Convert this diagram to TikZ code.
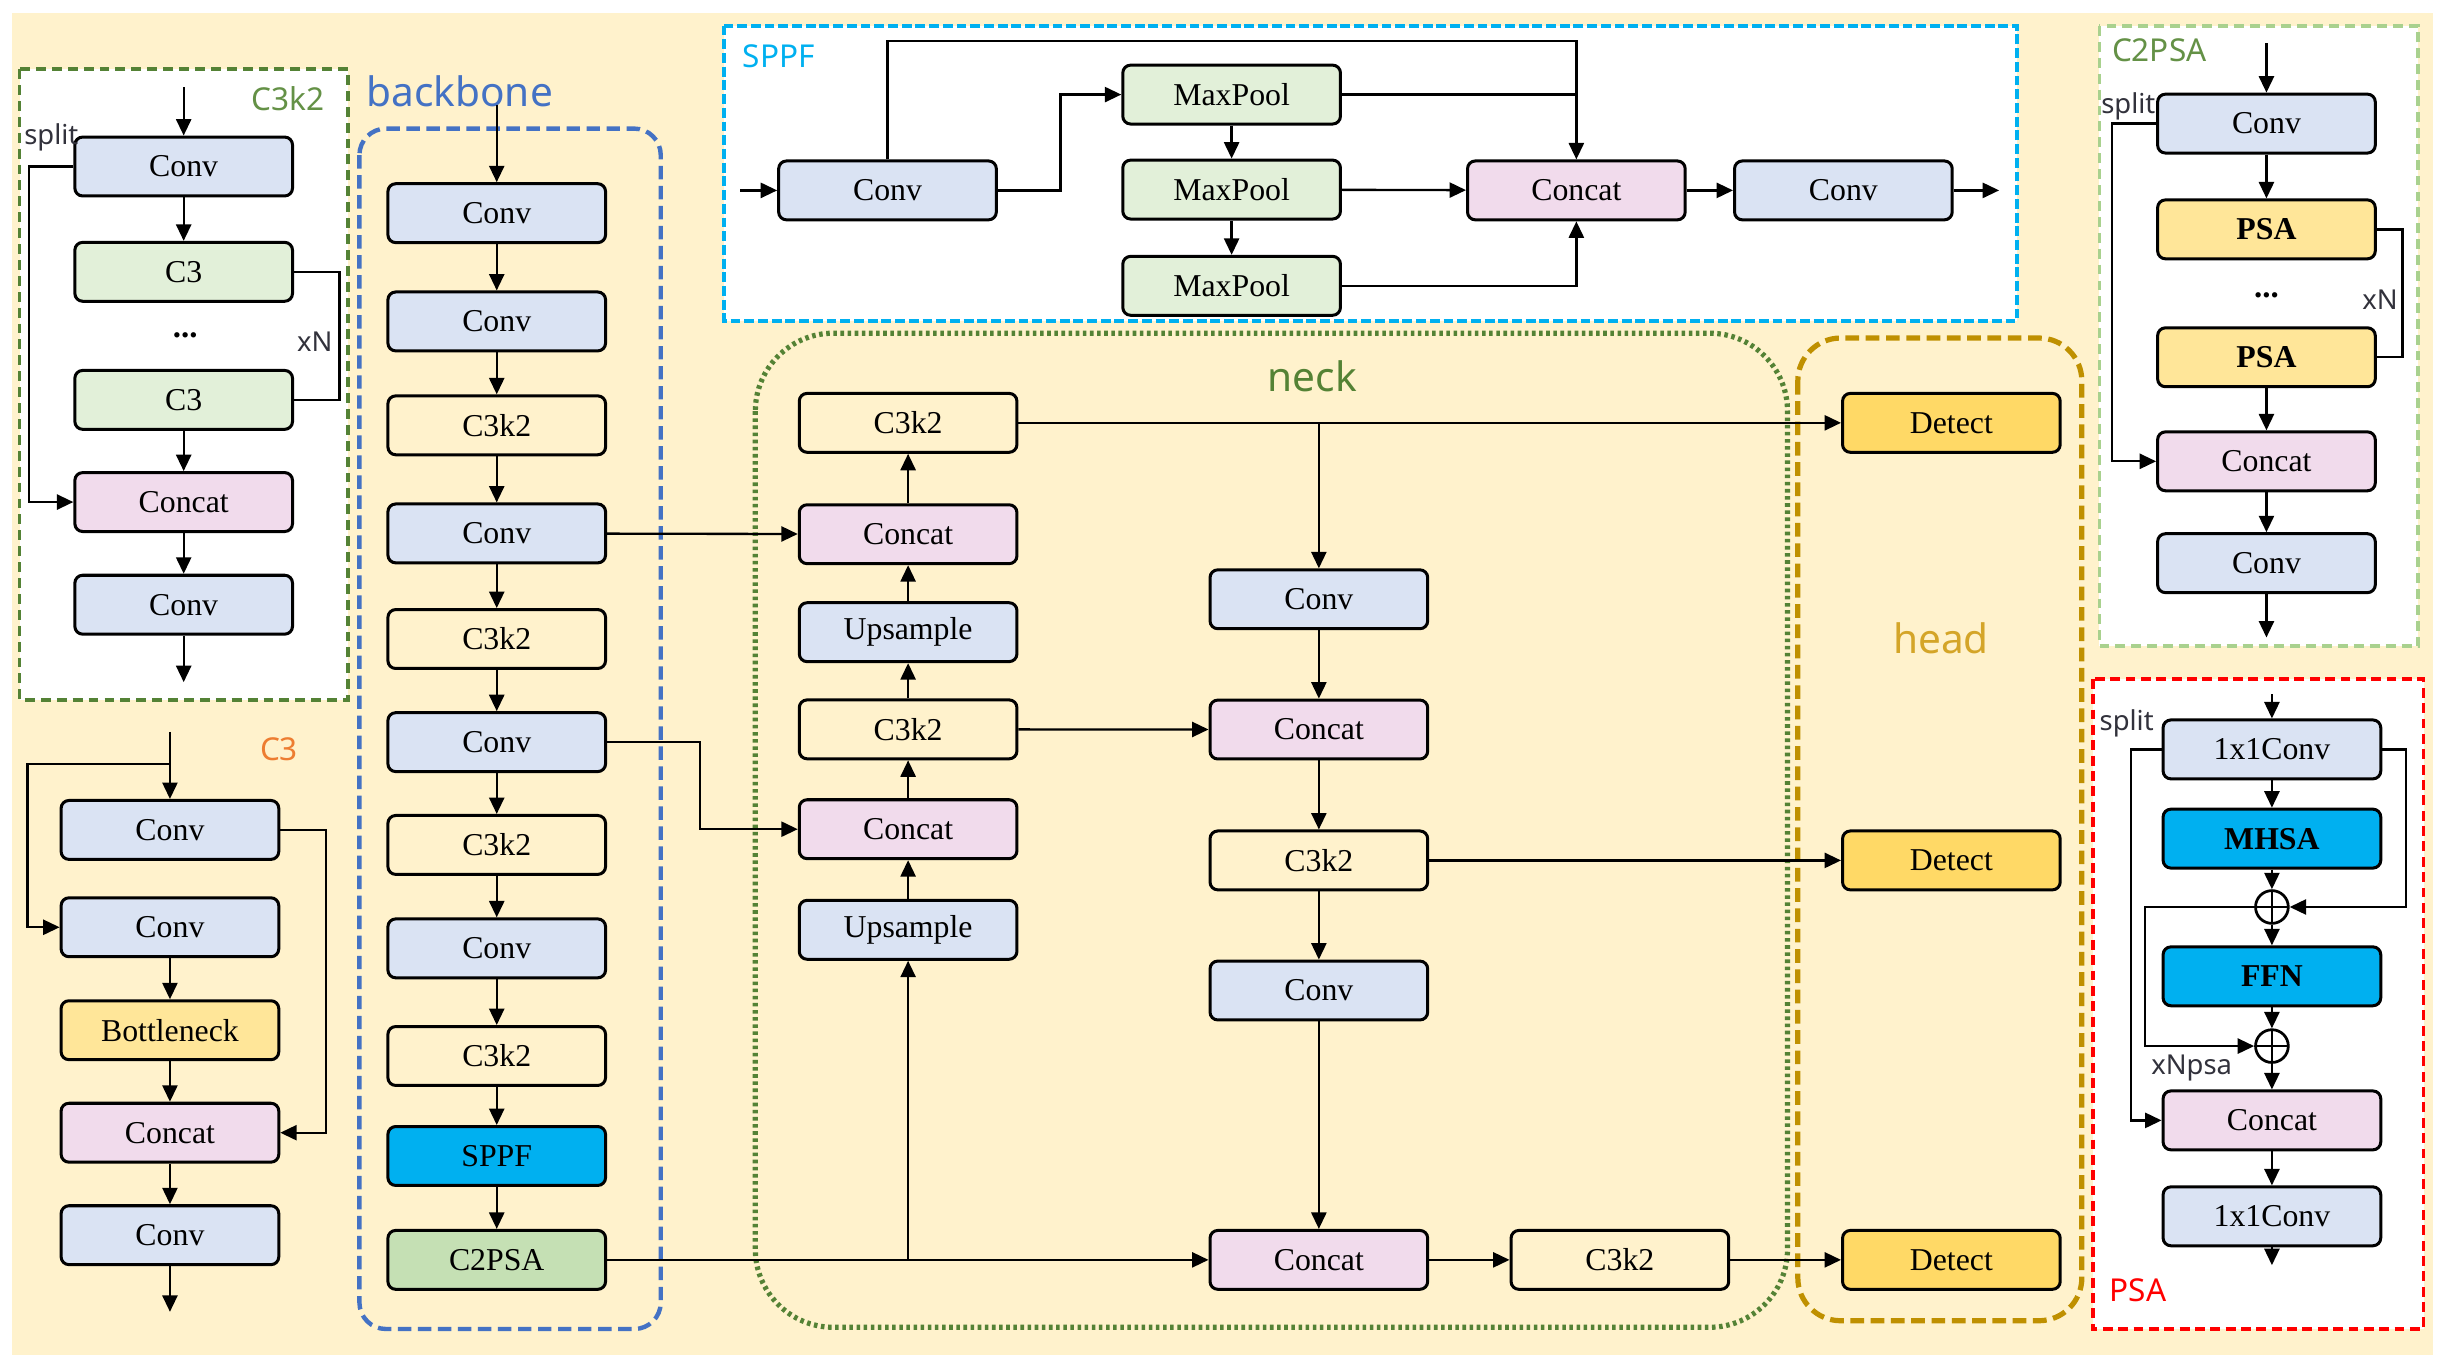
\documentclass[tikz,border=0pt]{standalone}
\usepackage{fontspec}
\setmainfont{Liberation Serif}
\newfontfamily\labelfont{Noto Sans}
\usetikzlibrary{positioning,arrows.meta}
\definecolor{ylBack}{RGB}{255,242,204}
\definecolor{ylConv}{RGB}{218,227,243}
\definecolor{ylConcat}{RGB}{241,219,236}
\definecolor{ylPool}{RGB}{226,240,217}
\definecolor{ylPsaBlock}{RGB}{197,224,180}
\definecolor{ylCyan}{RGB}{0,176,240}
\definecolor{ylYellow}{RGB}{255,230,153}
\definecolor{ylDetect}{RGB}{255,217,102}
\definecolor{ylBlue}{RGB}{68,114,196}
\definecolor{ylGreen}{RGB}{84,130,53}
\definecolor{ylLightGreen}{RGB}{169,209,142}
\definecolor{ylGold}{RGB}{191,144,0}
\definecolor{ylHead}{RGB}{212,165,40}
\definecolor{ylOrange}{RGB}{237,125,49}
\definecolor{ylRed}{RGB}{255,0,0}
\definecolor{ylTitle}{RGB}{100,145,70}
\definecolor{ylNote}{RGB}{50,50,60}

\begin{document}
\begin{tikzpicture}[
    x=0.02cm, y=-0.02cm,
    line width=0.85pt,
    >={Triangle[length=6pt,width=5.5pt]},
    block node/.style={rectangle, rounded corners=1mm, draw=black, line width=1.1pt, minimum width=2.79cm, minimum height=0.755cm, inner sep=0pt, font=\fontsize{11.6}{13}\selectfont},
    conv node/.style={block node, fill=ylConv},
    concat node/.style={block node, fill=ylConcat},
    plain node/.style={block node, fill=ylBack},
    pool node/.style={block node, fill=ylPool},
    cyan node/.style={block node, fill=ylCyan},
    c2psa node/.style={block node, fill=ylPsaBlock},
    yellow node/.style={block node, fill=ylYellow},
    detect node/.style={block node, fill=ylDetect},
    bold node/.style={font=\bfseries\fontsize{11.6}{13}\selectfont},
    plus node/.style={circle, draw=black, line width=1pt, minimum size=0.42cm, inner sep=0pt,
      path picture={\draw[line width=1pt] (path picture bounding box.north) -- (path picture bounding box.south)
        (path picture bounding box.west) -- (path picture bounding box.east);}},
    dots note/.style={font=\bfseries\fontsize{12}{14}\selectfont},
    panel title/.style={font=\labelfont\fontsize{11.5}{14}\selectfont},
    region title/.style={font=\labelfont\fontsize{14.8}{18}\selectfont},
    side note/.style={font=\labelfont\fontsize{10}{12}\selectfont, text=ylNote}
]
  \useasboundingbox (0,0) rectangle (1568,879);
  \fill[ylBack] (7.7,8.3) rectangle (1559,868);

  % panels and frames
  \draw[ylGreen, fill=white, line width=1.3pt, dash pattern=on 3.6pt off 2.2pt] (12.6,44.3) rectangle (223.1,448.5);
  \draw[ylCyan, fill=white, line width=1.4pt, dash pattern=on 3.6pt off 1.4pt] (464,16.4) rectangle (1292.5,205.5);
  \draw[ylLightGreen, fill=white, line width=1.3pt, dash pattern=on 3.6pt off 2.2pt] (1345.2,16.7) rectangle (1549.5,414);
  \draw[ylRed, fill=white, line width=1.3pt, dash pattern=on 3.6pt off 2pt] (1341,435) rectangle (1553,851.6);
  \draw[ylBlue, line width=1.6pt, dash pattern=on 4.9pt off 2.4pt, rounded corners=0.34cm] (230.3,82.4) rectangle (423.4,851.6);
  \draw[ylGreen, line width=1.9pt, dash pattern=on 1.3pt off 1.3pt, rounded corners=1cm] (484,213.5) rectangle (1145.4,850.5);
  \draw[ylGold, line width=1.9pt, dash pattern=on 5pt off 2.4pt, rounded corners=0.55cm] (1152,216.6) rectangle (1334,846.3);

  \node[panel title, text=ylTitle] (t-c3k2) at (184.5,63.5) {C3k2};
  \node[panel title, text=ylOrange] (t-c3) at (178.8,480) {C3};
  \node[panel title, text=ylCyan] (t-sppf) at (499,36.3) {SPPF};
  \node[panel title, text=ylTitle] (t-c2psa) at (1383.6,32) {C2PSA};
  \node[panel title, text=ylRed] (t-psa) at (1370,826.7) {PSA};
  \node[region title, text=ylBlue] (t-backbone) at (294.6,58.6) {backbone};
  \node[region title, text=ylGreen] (t-neck) at (841,241.2) {neck};
  \node[region title, text=ylHead] (t-head) at (1243.7,408.9) {head};

  % C3k2 block
  \node[conv node] (k1) at (117.7,106.7) {Conv};
  \node[pool node] (k2) [below=0.556cm of k1] {C3};
  \node[pool node] (k3) [below=0.848cm of k2] {C3};
  \node[dots note] (kdots) at (118.7,215.1) {...};
  \node[concat node] (k4) [below=0.516cm of k3] {Concat};
  \node[conv node] (k5) [below=0.522cm of k4] {Conv};
  \coordinate (kin) at (117.7,55.8);
  \coordinate (kout) at (117.7,437.1);
  \node[side note] (ksplit) at (32.9,88.1) {split};
  \node[side note] (kxn) at (201.7,218.8) {xN};

  \draw[->] (kin) -- (k1);
  \draw[->] (k1) -- (k2);
  \draw[->] (k3) -- (k4);
  \draw[->] (k4) -- (k5);
  \draw[->] (k5) -- (kout);
  \draw[->] (k1.west) -- ++(-28.6,0) |- (k4.west);
  \draw (k2.east) -- ++(29.2,0) |- (k3.east);

  % C3 block
  \node[conv node] (c1) at (108.9,531.8) {Conv};
  \node[conv node] (c2) [below=0.454cm of c1] {Conv};
  \node[yellow node] (c3) [below=0.526cm of c2] {Bottleneck};
  \node[concat node] (c4) [below=0.52cm of c3] {Concat};
  \node[conv node] (c5) [below=0.52cm of c4] {Conv};
  \coordinate (cin) at (108.9,469);
  \coordinate (csplit) at (108.9,489.7);
  \coordinate (cout) at (108.9,840.6);

  \draw[->] (cin) -- (c1);
  \draw[->] (csplit) -- ++(-91.2,0) |- (c2.west);
  \draw[->] (c1.east) -- ++(29.1,0) |- (c4.east);
  \draw[->] (c2) -- (c3);
  \draw[->] (c3) -- (c4);
  \draw[->] (c4) -- (c5);
  \draw[->] (c5) -- (cout);

  % backbone
  \node[conv node] (bb1) at (318.3,136.6) {Conv};
  \node[conv node] (bb2) [below=0.594cm of bb1] {Conv};
  \node[plain node] (bb3) [below=0.538cm of bb2] {C3k2};
  \node[conv node] (bb4) [below=0.592cm of bb3] {Conv};
  \node[plain node] (bb5) [below=0.56cm of bb4] {C3k2};
  \node[conv node] (bb6) [below=0.528cm of bb5] {Conv};
  \node[plain node] (bb7) [below=0.524cm of bb6] {C3k2};
  \node[conv node] (bb8) [below=0.532cm of bb7] {Conv};
  \node[plain node] (bb9) [below=0.586cm of bb8] {C3k2};
  \node[cyan node] (bb10) [below=0.488cm of bb9] {SPPF};
  \node[c2psa node] (bb11) [below=0.538cm of bb10] {C2PSA};
  \coordinate (bbin) at (318.3,67.2);

  \draw[->] (bbin) -- (bb1);
  \draw[->] (bb1) -- (bb2);
  \draw[->] (bb2) -- (bb3);
  \draw[->] (bb3) -- (bb4);
  \draw[->] (bb4) -- (bb5);
  \draw[->] (bb5) -- (bb6);
  \draw[->] (bb6) -- (bb7);
  \draw[->] (bb7) -- (bb8);
  \draw[->] (bb8) -- (bb9);
  \draw[->] (bb9) -- (bb10);
  \draw[->] (bb10) -- (bb11);

  % SPPF block
  \node[conv node] (s1) at (568.7,122) {Conv};
  \node[pool node] (m1) at (789.2,60.6) {MaxPool};
  \node[pool node] (m2) [below=0.424cm of m1] {MaxPool};
  \node[pool node] (m3) [below=0.44cm of m2] {MaxPool};
  \node[concat node] (sc) at (1010.1,122) {Concat};
  \node[conv node] (s2) [right=0.594cm of sc] {Conv};
  \coordinate (sin) at (474.2,122);
  \coordinate (sout) at (1281,122);

  \draw[->] (sin) -- (s1);
  \draw[->] (s1.east) -- ++(40.1,0) |- (m1.west);
  \draw[->] (s1.north) -- ++(0,-75.9) -| (sc.north);
  \draw (m1.east) -- (m1.east -| sc.north);
  \draw[->] (m1) -- (m2);
  \draw[->] (m2) -- (m3);
  \draw[->] (m2) -- (sc);
  \draw[->] (m3.east) -| (sc.south);
  \draw[->] (sc) -- (s2);
  \draw[->] (s2) -- (sout);

  % neck
  \node[conv node] (na6) at (581.9,595.8) {Upsample};
  \node[concat node] (na5) [above=0.496cm of na6] {Concat};
  \node[plain node] (na4) [above=0.486cm of na5] {C3k2};
  \node[conv node] (na3) [above=0.452cm of na4] {Upsample};
  \node[concat node] (na2) [above=0.462cm of na3] {Concat};
  \node[plain node] (na1) [above=0.634cm of na2] {C3k2};
  \node[conv node] (nb1) at (845.1,384) {Conv};
  \node[concat node] (nb2) [below=0.876cm of nb1] {Concat};
  \node[plain node] (nb3) [below=0.884cm of nb2] {C3k2};
  \node[conv node] (nb4) [below=0.874cm of nb3] {Conv};
  \node[concat node] (nb5) at (nb4 |- bb11) {Concat};
  \node[plain node] (nc) [right=1.03cm of nb5] {C3k2};
  \coordinate (upjoin) at (bb11 -| na6);
  \coordinate (downjoin) at (na1 -| nb1);

  % head
  \coordinate (headx) at (1250.4,0);
  \node[detect node] (det1) at (headx |- na1) {Detect};
  \node[detect node] (det2) at (headx |- nb3) {Detect};
  \node[detect node] (det3) at (headx |- nc) {Detect};

  \draw[->] (bb4) -- (na2);
  \draw[->] (bb6.east) -- ++(59.6,0) |- (na5.west);
  \draw[->] (bb11) -- (nb5);
  \draw[->] (upjoin) -- (na6);
  \draw[->] (na6) -- (na5);
  \draw[->] (na5) -- (na4);
  \draw[->] (na4) -- (na3);
  \draw[->] (na3) -- (na2);
  \draw[->] (na2) -- (na1);
  \draw[->] (na1) -- (det1);
  \draw[->] (downjoin) -- (nb1);
  \draw[->] (na4) -- (nb2);
  \draw[->] (nb1) -- (nb2);
  \draw[->] (nb2) -- (nb3);
  \draw[->] (nb3) -- (nb4);
  \draw[->] (nb4) -- (nb5);
  \draw[->] (nb3) -- (det2);
  \draw[->] (nb5) -- (nc);
  \draw[->] (nc) -- (det3);

  % C2PSA block
  \node[conv node] (p1) at (1452.3,79.2) {Conv};
  \node[yellow node, bold node] (p2) [below=0.562cm of p1] {PSA};
  \node[yellow node, bold node] (p3) [below=0.846cm of p2] {PSA};
  \node[dots note] (pdots) at (1452.3,189) {...};
  \node[concat node] (p4) [below=0.54cm of p3] {Concat};
  \node[conv node] (p5) [below=0.512cm of p4] {Conv};
  \coordinate (pin) at (1452.3,27.8);
  \coordinate (pout) at (1452.3,408.5);
  \node[side note] (psplit) at (1363.8,68) {split};
  \node[side note] (pxn) at (1525,191.8) {xN};

  \draw[->] (pin) -- (p1);
  \draw[->] (p1) -- (p2);
  \draw[->] (p3) -- (p4);
  \draw[->] (p4) -- (p5);
  \draw[->] (p5) -- (pout);
  \draw[->] (p1.west) -- ++(-28.2,0) |- (p4.west);
  \draw (p2.east) -- ++(16.4,0) |- (p3.east);

  % PSA block
  \node[conv node] (q1) at (1455.8,480.2) {1x1Conv};
  \node[cyan node, bold node] (q2) [below=0.35cm of q1] {MHSA};
  \node[plus node] (plus1) [below=0.252cm of q2] {};
  \node[cyan node, bold node] (q3) [below=0.264cm of plus1] {FFN};
  \node[plus node] (plus2) [below=0.27cm of q3] {};
  \node[concat node] (q4) [below=0.328cm of plus2] {Concat};
  \node[conv node] (q5) [below=0.436cm of q4] {1x1Conv};
  \coordinate (qin) at (1455.8,444.7);
  \coordinate (qout) at (1455.8,810.7);
  \node[side note] (qsplit) at (1362.7,463.6) {split};
  \node[side note] (qxn) at (1404.4,684.4) {xNpsa};

  \draw[->] (qin) -- (q1);
  \draw[->] (q1) -- (q2);
  \draw[->] (q2) -- (plus1);
  \draw[->] (plus1) -- (q3);
  \draw[->] (q3) -- (plus2);
  \draw[->] (plus2) -- (q4);
  \draw[->] (q4) -- (q5);
  \draw[->] (q5) -- (qout);
  \draw[->] (q1.west) -- ++(-19.7,0) |- (q4.west);
  \draw[->] (q1.east) -- ++(15.2,0) |- (plus1.east);
  \draw[->] (plus1.west) -- ++(-70.1,0) |- (plus2.west);
\end{tikzpicture}
\end{document}
